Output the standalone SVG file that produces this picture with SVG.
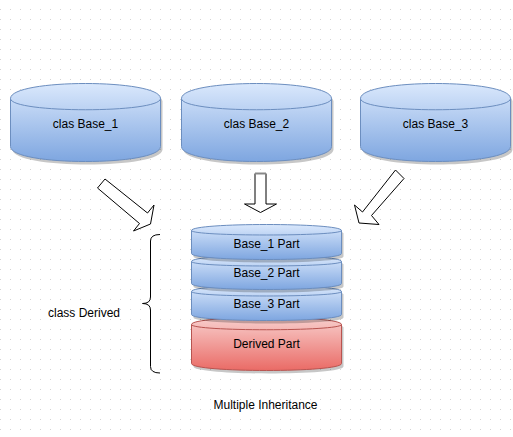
<svg xmlns="http://www.w3.org/2000/svg" width="513" height="437" viewBox="0 0 513 437">
<defs>
<pattern id="grid" x="0" y="0" width="10" height="10" patternUnits="userSpaceOnUse">
<rect x="0" y="9" width="1" height="1" fill="#d4d4d4"/>
</pattern>
<linearGradient id="blue" x1="0" y1="0" x2="0" y2="1">
<stop offset="0" stop-color="#dae8fc"/>
<stop offset="1" stop-color="#7ea6e0"/>
</linearGradient>
<linearGradient id="red" x1="0" y1="0" x2="0" y2="1">
<stop offset="0" stop-color="#f8cecc"/>
<stop offset="1" stop-color="#ea6b66"/>
</linearGradient>
</defs>
<style>
.blue{fill:url(#blue);stroke:#6c8ebf;stroke-width:1}
.red{fill:url(#red);stroke:#b85450;stroke-width:1}
.bl{fill:none;stroke:#6c8ebf;stroke-width:1}
.rl{fill:none;stroke:#b85450;stroke-width:1}
.shadow{fill:#000;opacity:0.22}
.arrow{fill:#fff;stroke:#000;stroke-width:1;stroke-linejoin:miter}
.lbl{font-family:"Liberation Sans",Arial,sans-serif;font-size:12px;fill:#000;text-anchor:middle}
</style>
<rect width="513" height="437" fill="#fff"/>
<rect width="513" height="437" fill="url(#grid)"/>

<g id="base1">
<path class="shadow" transform="translate(2,3)" d="M10.5,98.5 C10.5,78.5 160.5,78.5 160.5,98.5 L160.5,146.5 C160.5,166.5 10.5,166.5 10.5,146.5 Z"/>
<path class="blue" d="M10.5,98.5 C10.5,78.5 160.5,78.5 160.5,98.5 L160.5,146.5 C160.5,166.5 10.5,166.5 10.5,146.5 Z"/>
<path class="bl" d="M10.5,98.5 C10.5,113.5 160.5,113.5 160.5,98.5"/>
<text class="lbl" x="85.5" y="127.5">clas Base_1</text>
</g>

<g id="base2">
<path class="shadow" transform="translate(2,3)" d="M181.5,98.5 C181.5,78.5 331.5,78.5 331.5,98.5 L331.5,146.5 C331.5,166.5 181.5,166.5 181.5,146.5 Z"/>
<path class="blue" d="M181.5,98.5 C181.5,78.5 331.5,78.5 331.5,98.5 L331.5,146.5 C331.5,166.5 181.5,166.5 181.5,146.5 Z"/>
<path class="bl" d="M181.5,98.5 C181.5,113.5 331.5,113.5 331.5,98.5"/>
<text class="lbl" x="256.5" y="127.5">clas Base_2</text>
</g>

<g id="base3">
<path class="shadow" transform="translate(2,3)" d="M360.5,98.5 C360.5,78.5 510.5,78.5 510.5,98.5 L510.5,146.5 C510.5,166.5 360.5,166.5 360.5,146.5 Z"/>
<path class="blue" d="M360.5,98.5 C360.5,78.5 510.5,78.5 510.5,98.5 L510.5,146.5 C510.5,166.5 360.5,166.5 360.5,146.5 Z"/>
<path class="bl" d="M360.5,98.5 C360.5,113.5 510.5,113.5 510.5,98.5"/>
<text class="lbl" x="435.5" y="127.5">clas Base_3</text>
</g>

<g id="connectors">
<polygon class="arrow" points="105,179 147.5,213 154,205 150.5,224 133.5,231 139.5,223.5 97.5,188"/>
<polygon class="arrow" points="255,173.5 266,173.5 266,204 276.5,204 260.5,212.5 244.5,204 255,204"/>
<line x1="255" y1="173.5" x2="266" y2="173.5" stroke="#888" stroke-width="2"/>
<polygon class="arrow" points="395.5,170 404,178.5 371.5,215.5 379,224.5 359,223 354.5,205 362.5,212"/>
</g>

<g id="derived">
<path class="shadow" transform="translate(2,3)" d="M191.5,324.5 C191.5,315.2 341.5,315.2 341.5,324.5 L341.5,363.5 C341.5,372.8 191.5,372.8 191.5,363.5 Z"/>
<path class="red" d="M191.5,324.5 C191.5,315.2 341.5,315.2 341.5,324.5 L341.5,363.5 C341.5,372.8 191.5,372.8 191.5,363.5 Z"/>
<path class="rl" d="M191.5,324.5 C191.5,331.5 341.5,331.5 341.5,324.5"/>
<text class="lbl" x="266.5" y="347.5">Derived Part</text>
</g>

<g id="base3part">
<path class="shadow" transform="translate(2,3)" d="M191.5,291.5 C191.5,283.5 341.5,283.5 341.5,291.5 L341.5,314.5 C341.5,322.5 191.5,322.5 191.5,314.5 Z"/>
<path class="blue" d="M191.5,291.5 C191.5,283.5 341.5,283.5 341.5,291.5 L341.5,314.5 C341.5,322.5 191.5,322.5 191.5,314.5 Z"/>
<path class="bl" d="M191.5,291.5 C191.5,297.5 341.5,297.5 341.5,291.5"/>
<text class="lbl" x="266.5" y="308.3">Base_3 Part</text>
</g>

<g id="base2part">
<path class="shadow" transform="translate(2,3)" d="M191.5,261.5 C191.5,253.5 341.5,253.5 341.5,261.5 L341.5,283.5 C341.5,291.5 191.5,291.5 191.5,283.5 Z"/>
<path class="blue" d="M191.5,261.5 C191.5,253.5 341.5,253.5 341.5,261.5 L341.5,283.5 C341.5,291.5 191.5,291.5 191.5,283.5 Z"/>
<path class="bl" d="M191.5,261.5 C191.5,267.5 341.5,267.5 341.5,261.5"/>
<text class="lbl" x="266.5" y="277.3">Base_2 Part</text>
</g>

<g id="base1part">
<path class="shadow" transform="translate(2,3)" d="M191.5,230.5 C191.5,222.5 341.5,222.5 341.5,230.5 L341.5,253.5 C341.5,261.5 191.5,261.5 191.5,253.5 Z"/>
<path class="blue" d="M191.5,230.5 C191.5,222.5 341.5,222.5 341.5,230.5 L341.5,253.5 C341.5,261.5 191.5,261.5 191.5,253.5 Z"/>
<path class="bl" d="M191.5,230.5 C191.5,236.5 341.5,236.5 341.5,230.5"/>
<text class="lbl" x="266.5" y="248.3">Base_1 Part</text>
</g>

<g id="brace">
<path d="M160,234.5 Q150.5,234.5 150.5,241 L150.5,297 Q150.5,303.5 142.5,303.5 Q150.5,303.5 150.5,310 L150.5,366.5 Q150.5,373 160,373" fill="none" stroke="#000" stroke-width="1"/>
</g>

<g id="classDerived">
<text class="lbl" x="84" y="316.7">class Derived</text>
</g>

<g id="caption">
<text class="lbl" x="265.5" y="409.3">Multiple Inheritance</text>
</g>
</svg>
